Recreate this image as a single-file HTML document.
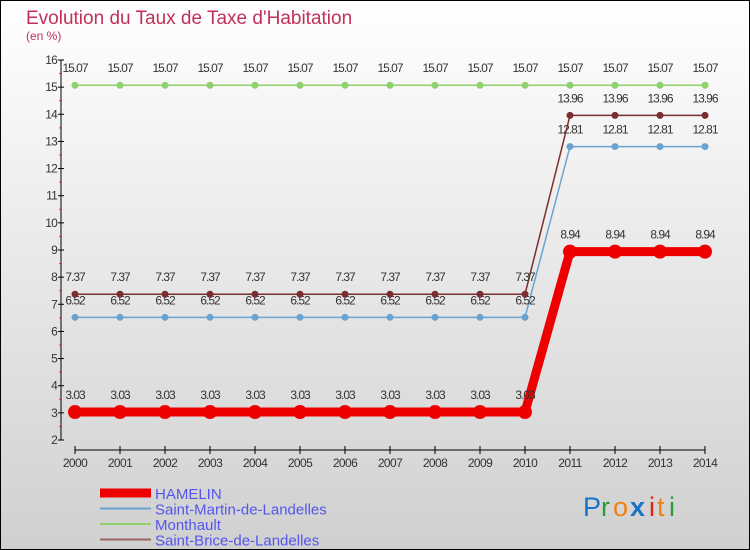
<!DOCTYPE html>
<html><head><meta charset="utf-8"><style>
body{margin:0;width:750px;height:550px;overflow:hidden}
svg{display:block}
text{font-family:"Liberation Sans",sans-serif}
</style></head><body>
<svg width="750" height="550">
<defs><linearGradient id="bg" x1="0" y1="0" x2="0" y2="1"><stop offset="0" stop-color="#ffffff"/><stop offset="1" stop-color="#d0d0d0"/></linearGradient></defs>
<rect x="0.5" y="0.5" width="749" height="549" fill="url(#bg)" stroke="#000"/>
<text x="26" y="24" font-size="19" fill="#c0305a">Evolution du Taux de Taxe d'Habitation</text>
<text x="26" y="40" font-size="12" fill="#c0305a">(en %)</text>
<g id="axes"></g>
<g id="series"></g>
<g id="legend"></g>
<g font-size="27">
<text x="583" y="516" fill="#1a73c8">P</text><text x="601" y="516" fill="#2a9a3a">r</text><text x="613" y="516" fill="#f08010">o</text><text x="630" y="516" fill="#1a73c8" font-weight="bold">x</text><text x="649" y="516" fill="#e02010">i</text><text x="657" y="516" fill="#f08010">t</text><text x="669" y="516" fill="#2a9a3a">i</text>
</g>
</svg>
<script>
const years=[2000,2001,2002,2003,2004,2005,2006,2007,2008,2009,2010,2011,2012,2013,2014];
const hamelin=[3.03,3.03,3.03,3.03,3.03,3.03,3.03,3.03,3.03,3.03,3.03,8.94,8.94,8.94,8.94];
const saintMartin=[6.52,6.52,6.52,6.52,6.52,6.52,6.52,6.52,6.52,6.52,6.52,12.81,12.81,12.81,12.81];
const monthault=[15.07,15.07,15.07,15.07,15.07,15.07,15.07,15.07,15.07,15.07,15.07,15.07,15.07,15.07,15.07];
const saintBrice=[7.37,7.37,7.37,7.37,7.37,7.37,7.37,7.37,7.37,7.37,7.37,13.96,13.96,13.96,13.96];
const yTicks=[2,3,4,5,6,7,8,9,10,11,12,13,14,15,16];
const NS='http://www.w3.org/2000/svg';
const X=i=>75+i*45;
const Y=v=>440-(v-2)*380/14;
function el(t,a,p){const e=document.createElementNS(NS,t);for(const k in a)e.setAttribute(k,a[k]);p.appendChild(e);return e;}
const ax=document.getElementById('axes');
let e=el('line',{x1:61,y1:60,x2:61,y2:440,stroke:'#000'},ax);


yTicks.forEach(v=>{
 el('line',{x1:58,y1:Y(v),x2:64,y2:Y(v),stroke:'#000'},ax);
 if(v<16){el('line',{x1:59,y1:Y(v+0.5),x2:62,y2:Y(v+0.5),stroke:'#e03030'},ax);}
 const t=el('text',{x:57,y:Y(v)+4,'font-size':12,fill:'#333','text-anchor':'end','letter-spacing':'-0.8'},ax);t.textContent=v;
 
 
});
e=el('line',{x1:75,y1:450,x2:705,y2:450,stroke:'#000'},ax);


years.forEach((y,i)=>{
 el('line',{x1:X(i),y1:446,x2:X(i),y2:454,stroke:'#000'},ax);
 const t=el('text',{x:X(i),y:467,'font-size':12,fill:'#333','text-anchor':'middle','letter-spacing':'-0.6'},ax);t.textContent=y;
 
 
});
const sg=document.getElementById('series');
function series(vals,color,w,r,name){
 const g=el('g',{},sg);
 
 
 el('polyline',{points:vals.map((v,i)=>X(i)+','+Y(v)).join(' '),fill:'none',stroke:color,'stroke-width':w},g);
 vals.forEach((v,i)=>{
  const c=el('circle',{cx:X(i),cy:Y(v),r:r,fill:color},g);
  
  
  const t=el('text',{x:X(i),y:Y(v)-13,'font-size':12,fill:'#333','text-anchor':'middle','letter-spacing':'-1'},g);
  t.textContent=String(v).replace(/\.?0+$/,'');
  
  
 });
}
series(monthault,'#8fd16a',1.5,3.5,'series-monthault');
series(saintMartin,'#6ba3d0',1.5,3.5,'series-saint-martin');
series(saintBrice,'#7a2e2e',1.5,3.5,'series-saint-brice');
series(hamelin,'#ee0000',9,7,'series-hamelin');
const lg=document.getElementById('legend');
const items=[['HAMELIN','#ee0000',9],['Saint-Martin-de-Landelles','#6ba3d0',2],['Monthault','#8fd16a',2],['Saint-Brice-de-Landelles','#9b6464',2]];
items.forEach((it,i)=>{
 const y=493+i*15.5;
 const g=el('g',{},lg);
 
 
 el('line',{x1:100,y1:y,x2:151,y2:y,stroke:it[1],'stroke-width':it[2]},g);
 const t=el('text',{x:155,y:y+6,'font-size':15,fill:'#5555ee'},g);t.textContent=it[0];
});
</script>
</body></html>
